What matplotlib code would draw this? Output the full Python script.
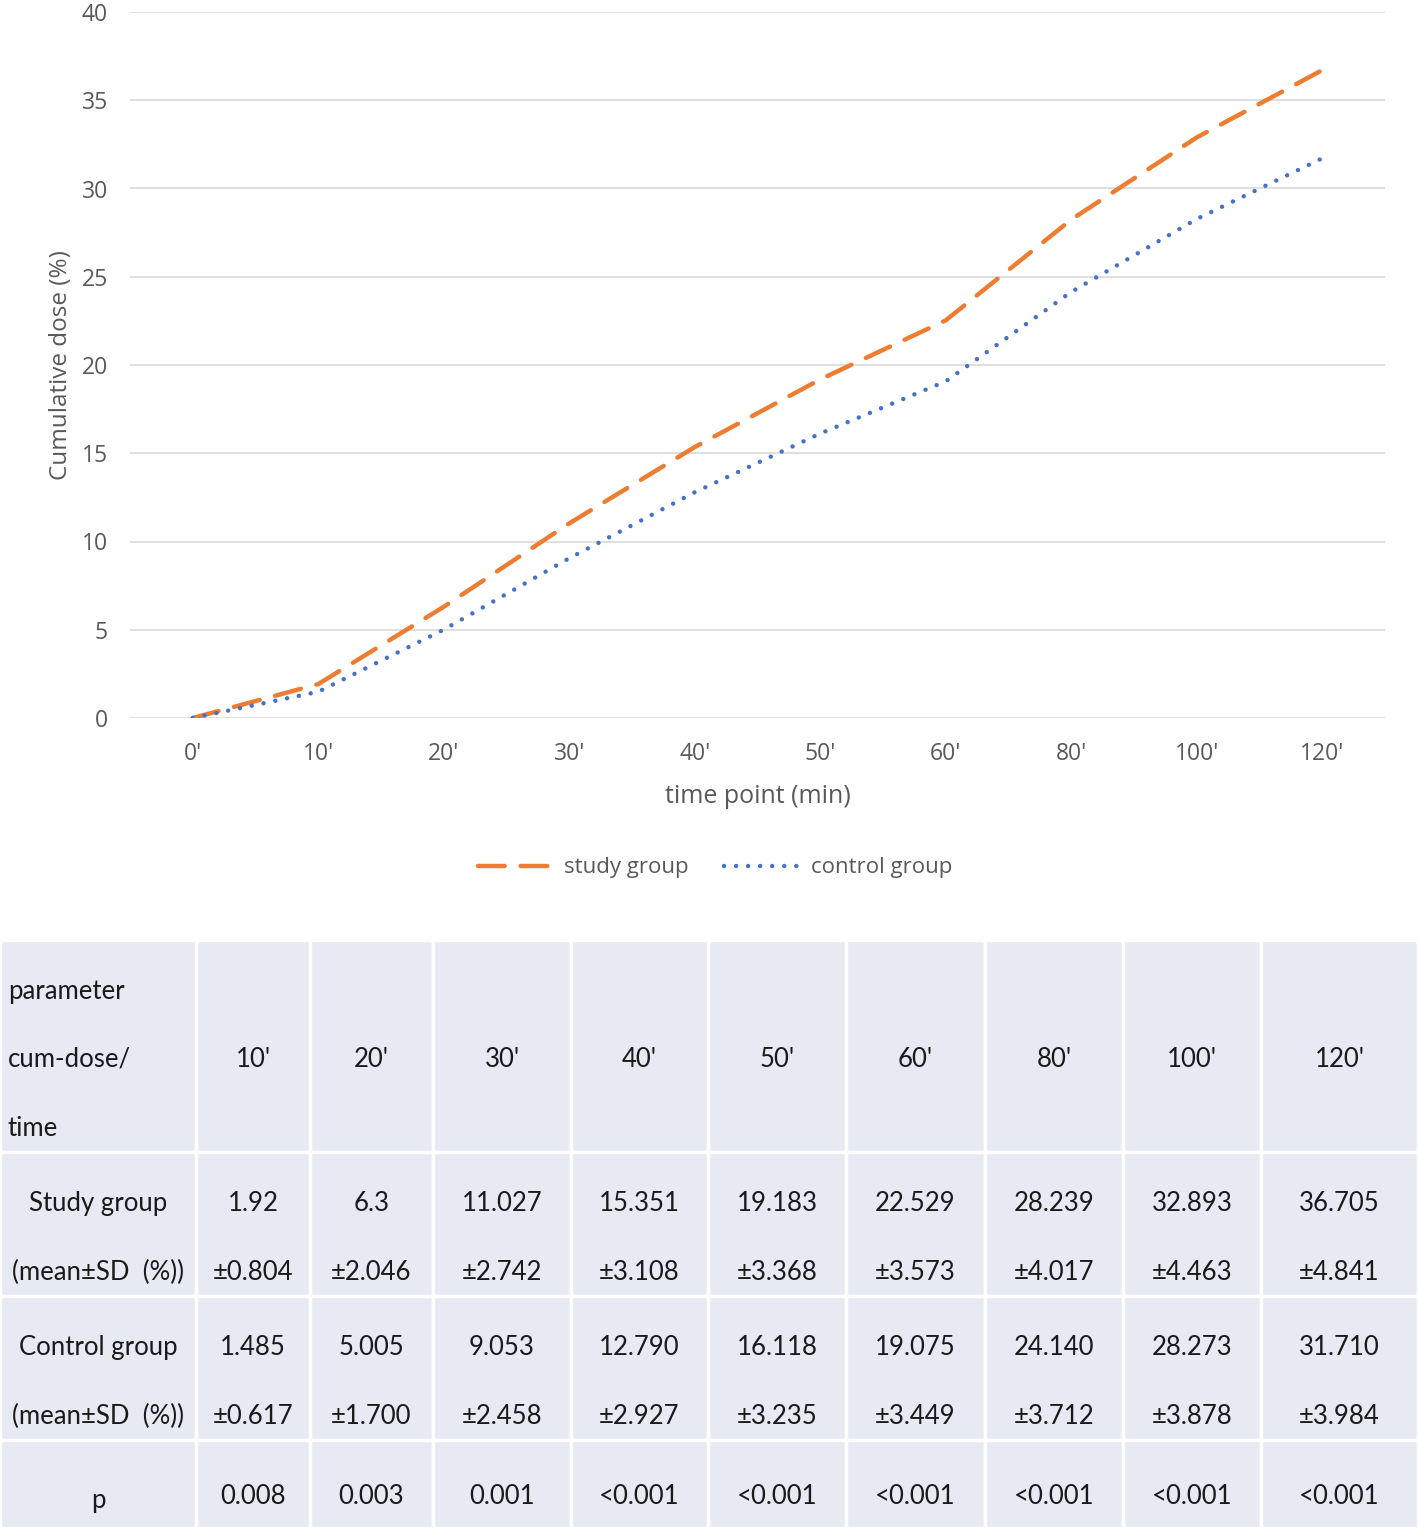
import matplotlib
matplotlib.use("Agg")
import matplotlib.pyplot as plt
from matplotlib.patches import Rectangle

# data
time_labels = ["0'", "10'", "20'", "30'", "40'", "50'", "60'", "80'", "100'", "120'"]
study_mean = [0, 1.92, 6.3, 11.027, 15.351, 19.183, 22.529, 28.239, 32.893, 36.705]
control_mean = [0, 1.485, 5.005, 9.053, 12.790, 16.118, 19.075, 24.140, 28.273, 31.710]

table_times = ["10'", "20'", "30'", "40'", "50'", "60'", "80'", "100'", "120'"]
study_txt = ["1.92", "6.3", "11.027", "15.351", "19.183", "22.529", "28.239", "32.893", "36.705"]
study_sd = ["±0.804", "±2.046", "±2.742", "±3.108", "±3.368", "±3.573", "±4.017", "±4.463", "±4.841"]
control_txt = ["1.485", "5.005", "9.053", "12.790", "16.118", "19.075", "24.140", "28.273", "31.710"]
control_sd = ["±0.617", "±1.700", "±2.458", "±2.927", "±3.235", "±3.449", "±3.712", "±3.878", "±3.984"]
p_values = ["0.008", "0.003", "0.001", "<0.001", "<0.001", "<0.001", "<0.001", "<0.001", "<0.001"]

W, H = 1418, 1528
fig = plt.figure(figsize=(W / 100, H / 100), dpi=100)

# ---- line chart ----
ax = fig.add_axes([130 / W, 1 - 718 / H, (1385 - 130) / W, (718 - 12) / H])
x = list(range(len(time_labels)))
ax.plot(x, study_mean, color="#ED7D31", lw=3.2, dashes=(6, 3.6),
        dash_capstyle="round", label="study group", zorder=3)
ax.plot(x, control_mean, color="#4472C4", lw=3.2, dashes=(0.01, 2.7),
        dash_capstyle="round", label="control group", zorder=3)
ax.set_xlim(-0.5, len(time_labels) - 0.5)
ax.set_ylim(0, 40)
ax.set_yticks(range(0, 41, 5))
ax.set_xticks(x)
ax.set_xticklabels(time_labels)
ax.grid(axis="y", color="#d9d9d9", lw=1.2)
ax.set_axisbelow(True)
for s in ax.spines.values():
    s.set_visible(False)
ax.tick_params(length=0, labelsize=16.5, labelcolor="#595959", pad=17)
ax.tick_params(axis="y", pad=16)
for lab in ax.get_xticklabels() + ax.get_yticklabels():
    lab.set_family("Open Sans")
ax.set_ylabel("Cumulative dose (%)", fontsize=17.5, color="#595959",
              family="Open Sans", labelpad=6)
ax.set_xlabel("time point (min)", fontsize=18, color="#595959",
              family="Open Sans", labelpad=13)
leg = fig.legend(loc="center", bbox_to_anchor=(715 / W, 1 - 868 / H), ncol=2,
                 frameon=False, prop={"family": "Open Sans", "size": 16},
                 handlelength=3.3, columnspacing=1.6, handletextpad=0.6)
for t in leg.get_texts():
    t.set_color("#595959")

# ---- table ----
tax = fig.add_axes([0, 0, 1, 1 - 940 / H])
tax.set_xlim(0, W)
tax.set_ylim(H, 940)
tax.axis("off")

col_edges = [0, 196, 310, 433, 571, 708, 846, 985, 1123, 1261, 1418]
row_edges = [940, 1152, 1296, 1440, 1528]
cell_color = "#e7e9f3"
for i in range(len(row_edges) - 1):
    for j in range(len(col_edges) - 1):
        tax.add_patch(Rectangle((col_edges[j], row_edges[i]),
                                col_edges[j + 1] - col_edges[j],
                                row_edges[i + 1] - row_edges[i],
                                facecolor=cell_color, edgecolor="white", lw=2.5))

tfont = dict(family="Lato", fontsize=18.5, color="#1a1a1a", va="center")
centers = [(col_edges[j] + col_edges[j + 1]) / 2 for j in range(len(col_edges) - 1)]

for k, line in enumerate(["parameter", "cum-dose/", "time"]):
    tax.text(8, [991, 1059, 1128][k], line, ha="left", **tfont)
tax.text(centers[0], 1203, "Study group", ha="center", **tfont)
tax.text(centers[0], 1272, "(mean±SD  (%))", ha="center", **tfont)
tax.text(centers[0], 1347, "Control group", ha="center", **tfont)
tax.text(centers[0], 1416, "(mean±SD  (%))", ha="center", **tfont)
tax.text(centers[0], 1500, "p", ha="center", **tfont)

for j in range(len(table_times)):
    cx = centers[j + 1]
    tax.text(cx, 1059, table_times[j], ha="center", **tfont)
    tax.text(cx, 1203, study_txt[j], ha="center", **tfont)
    tax.text(cx, 1272, study_sd[j], ha="center", **tfont)
    tax.text(cx, 1347, control_txt[j], ha="center", **tfont)
    tax.text(cx, 1416, control_sd[j], ha="center", **tfont)
    tax.text(cx, 1496, p_values[j], ha="center", **tfont)

fig.savefig("out.png", dpi=100)
